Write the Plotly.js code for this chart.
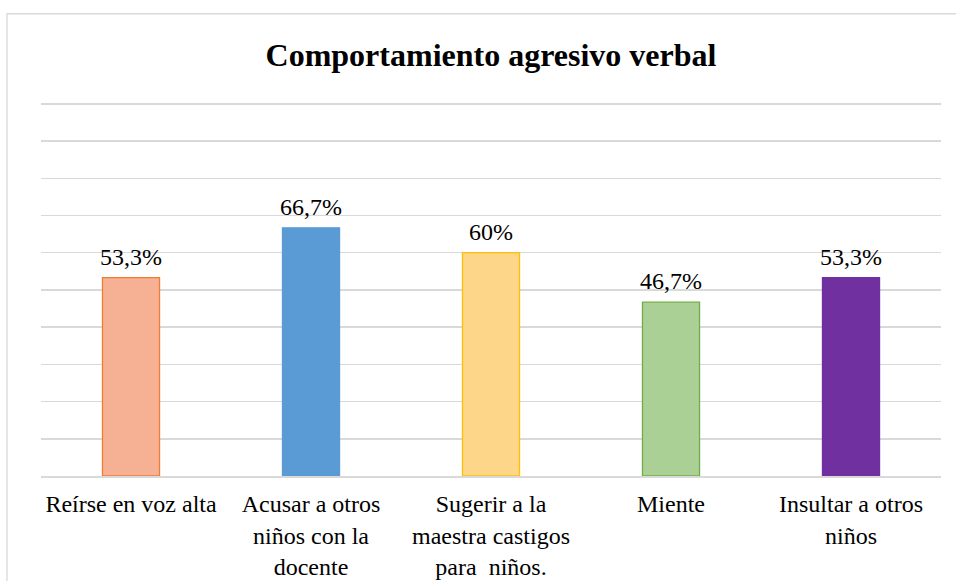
<!DOCTYPE html>
<html>
<head>
<meta charset="utf-8">
<script src="https://cdn.plot.ly/plotly-3.0.1.min.js"></script>
<style>
html,body{margin:0;padding:0;background:#fff;}
#chart{width:956px;height:581px;}
</style>
</head>
<body>
<div id="chart"></div>
<script>
var categories = [
  "Reírse en voz alta",
  "Acusar a otros<br>niños con la<br>docente",
  "Sugerir a la<br>maestra castigos<br>para  niños.",
  "Miente",
  "Insultar a otros<br>niños"
];
var values = [53.3, 66.7, 60, 46.7, 53.3];
var fillColors = ["#F6B194", "#5B9BD5", "#FDD68A", "#ABD096", "#7030A0"];
var lineColors = ["#ED7D31", "#5B9BD5", "#FFC000", "#70AD47", "#7030A0"];

var serifFamily = "Liberation Serif";

function serifSpan(s) {
  return s.split('<br>').map(function(line){
    return '<span style="font-family:' + serifFamily + '">' + line + '</span>';
  }).join('<br>');
}

var labels = values.map(function(v){ return String(v).replace('.', ',') + '%'; });
var tickText = categories.map(serifSpan);

var trace = {
  type: 'bar',
  x: categories,
  y: values,
  width: 0.317,
  marker: {color: fillColors, line: {color: lineColors, width: 1.3}},
  hoverinfo: 'none'
};

var annotations = values.map(function(v, i){
  return {
    x: categories[i], y: v, xref: 'x', yref: 'y',
    text: serifSpan(labels[i]), showarrow: false, yanchor: 'bottom', yshift: 6,
    font: {family: serifFamily, size: 24, color: '#000'}
  };
});

var layout = {
  width: 956, height: 581,
  margin: {l: 41, r: 15, t: 102, b: 105},
  paper_bgcolor: '#fff', plot_bgcolor: '#fff',
  showlegend: false,
  font: {family: serifFamily, color: '#000'},
  title: {
    text: '<b>Comportamiento agresivo verbal</b>',
    font: {family: serifFamily, size: 32, color: '#000'},
    x: 0.5, xref: 'paper', y: 1 - 55/581, yref: 'container', yanchor: 'middle'
  },
  xaxis: {
    type: 'category',
    tickvals: categories, ticktext: tickText,
    showgrid: false, zeroline: false,
    showline: true, linecolor: '#D9D9D9', linewidth: 1.5,
    ticks: '', ticklabelstandoff: 6,
    tickfont: {family: serifFamily, size: 24, color: '#000'}
  },
  yaxis: {
    range: [0, 100.5], dtick: 10,
    showgrid: true, gridcolor: '#D9D9D9', gridwidth: 1.5,
    zeroline: false, showticklabels: false, ticks: ''
  },
  annotations: annotations,
  shapes: [{
    type: 'rect', xref: 'paper', yref: 'paper',
    x0: -34/900, x1: 1.2, y0: -0.5, y1: 1.236,
    line: {color: '#D9D9D9', width: 1.3}, fillcolor: 'rgba(0,0,0,0)', layer: 'below'
  }]
};

Plotly.newPlot('chart', [trace], layout, {displayModeBar: false, staticPlot: true});
</script>
</body>
</html>
